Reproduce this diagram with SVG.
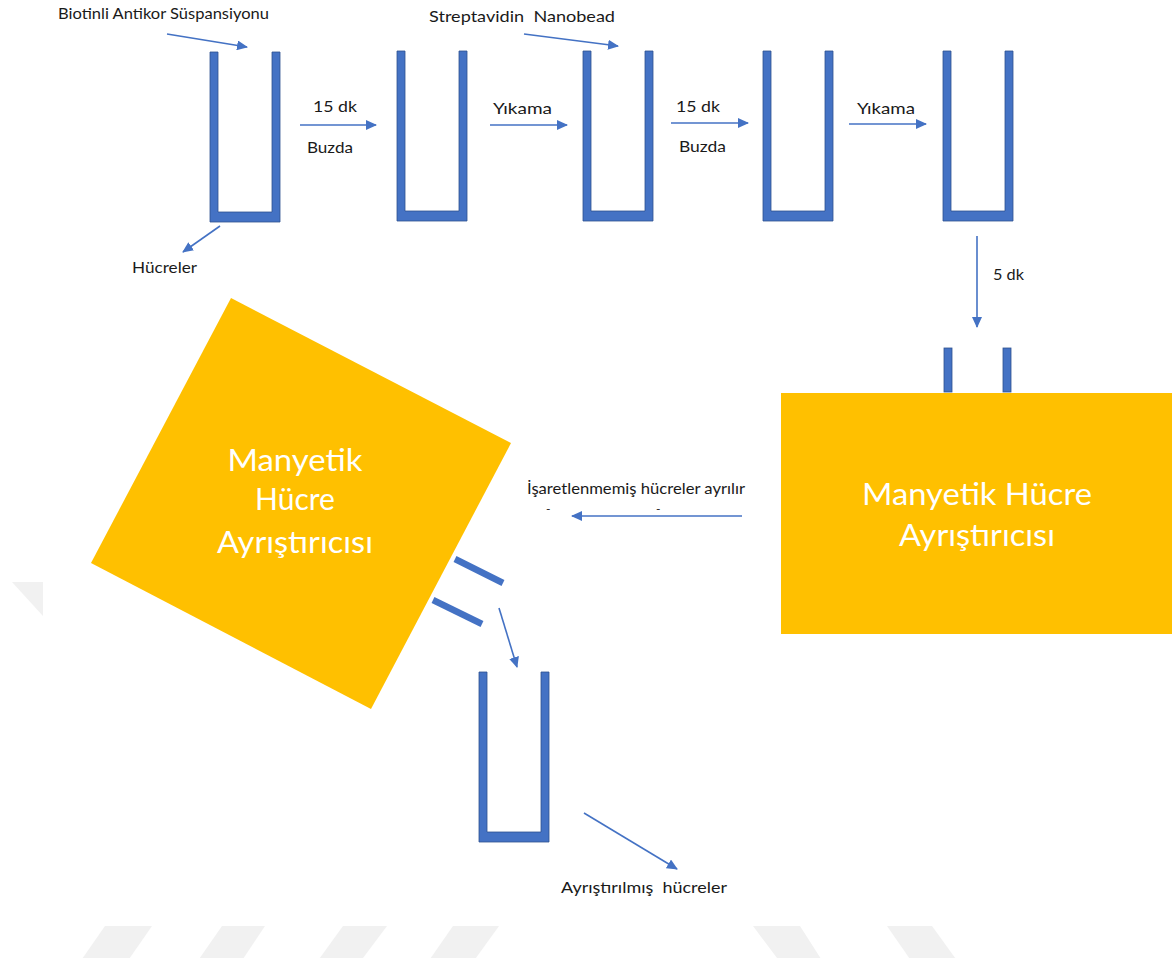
<svg xmlns="http://www.w3.org/2000/svg" width="1172" height="958" viewBox="0 0 1172 958">
  <style>
    .lbl { font-family: Lato, "Open Sans", "Liberation Sans", sans-serif; fill: #1a1a1a; }
    .big { font-family: Lato, "Open Sans", "Liberation Sans", sans-serif; fill: #ffffff; font-size: 30px; text-anchor: middle; }
    .tube { fill: #4472C4; stroke: #2F528F; stroke-width: 0.8; }
    .box { fill: #FFC000; }
    .wm { fill: #f1f1f1; }
    .con { stroke: #4472C4; stroke-width: 1.6; fill: none; marker-end: url(#ah); }
  </style>
  <defs>
    <marker id="ah" markerUnits="userSpaceOnUse" markerWidth="11" markerHeight="10" refX="10" refY="5" orient="auto">
      <path d="M0,0 L11,5 L0,10 z" fill="#4472C4"/>
    </marker>
    <path id="tubeShape" d="M0,0 H8 V160 H62 V0 H70 V170 H0 Z"/>
  </defs>
  <rect width="1172" height="958" fill="#ffffff"/>

  <g id="watermark">
    <polygon class="wm" points="12,582 43,582 43,616"/>
    <polygon class="wm" points="105,926 152,926 127,962 80,962"/>
    <polygon class="wm" points="222,926 265,926 241,962 197,962"/>
    <polygon class="wm" points="343,926 387,926 360,962 317,962"/>
    <polygon class="wm" points="453,926 499,926 473,962 428,962"/>
    <polygon class="wm" points="753,926 800,926 823,962 780,962"/>
    <polygon class="wm" points="887,926 932,926 958,962 912,962"/>
  </g>

  <g id="tube1"><use href="#tubeShape" class="tube" transform="translate(210,52)"/></g>
  <g id="tube2"><use href="#tubeShape" class="tube" transform="translate(397,51)"/></g>
  <g id="tube3"><use href="#tubeShape" class="tube" transform="translate(583,51)"/></g>
  <g id="tube4"><use href="#tubeShape" class="tube" transform="translate(763,51)"/></g>
  <g id="tube5"><use href="#tubeShape" class="tube" transform="translate(943,51)"/></g>
  <g id="tube6"><use href="#tubeShape" class="tube" transform="translate(479,672)"/></g>

  <g id="separator-right">
    <rect class="tube" x="944" y="348" width="8" height="44"/>
    <rect class="tube" x="1003" y="348" width="8" height="44"/>
    <rect class="box" x="781" y="393" width="391" height="241"/>
    <text class="big" x="977" y="505" textLength="230" lengthAdjust="spacingAndGlyphs">Manyetik Hücre</text>
    <text class="big" x="977" y="546" textLength="156" lengthAdjust="spacingAndGlyphs">Ayrıştırıcısı</text>
  </g>

  <g id="separator-left">
    <polygon class="box" points="231,298 511,443 371,709 91,563"/>
    <line x1="455" y1="559" x2="503" y2="583" stroke="#4472C4" stroke-width="6.5"/>
    <line x1="433" y1="600" x2="482" y2="624" stroke="#4472C4" stroke-width="6.5"/>
    <text class="big" x="295" y="471" textLength="135" lengthAdjust="spacingAndGlyphs">Manyetik</text>
    <text class="big" x="295" y="510" textLength="80" lengthAdjust="spacingAndGlyphs">Hücre</text>
    <text class="big" x="295" y="553" textLength="156" lengthAdjust="spacingAndGlyphs">Ayrıştırıcısı</text>
  </g>

  <g id="connectors">
    <line class="con" x1="167" y1="34" x2="247" y2="47"/>
    <line class="con" x1="220" y1="226" x2="183" y2="252"/>
    <line class="con" x1="300" y1="125" x2="376" y2="125"/>
    <line class="con" x1="490" y1="125" x2="567" y2="125"/>
    <line class="con" x1="524" y1="34" x2="618" y2="46"/>
    <line class="con" x1="671" y1="123" x2="748" y2="123"/>
    <line class="con" x1="849" y1="124" x2="926" y2="124"/>
    <line class="con" x1="977" y1="236" x2="977" y2="327"/>
    <line class="con" x1="742" y1="516" x2="572" y2="516"/>
    <line class="con" x1="499" y1="608" x2="517" y2="667"/>
    <line class="con" x1="584" y1="813" x2="677" y2="869"/>
  </g>

  <g id="labels">
    <text class="lbl" x="58" y="19" font-size="15" textLength="211" lengthAdjust="spacingAndGlyphs">Biotinli Antikor Süspansiyonu</text>
    <text class="lbl" x="429" y="22" font-size="16" textLength="186" lengthAdjust="spacingAndGlyphs" xml:space="preserve">Streptavidin  Nanobead</text>
    <text class="lbl" x="313" y="112" font-size="16" textLength="44" lengthAdjust="spacingAndGlyphs">15 dk</text>
    <text class="lbl" x="307" y="153" font-size="16" textLength="46" lengthAdjust="spacingAndGlyphs">Buzda</text>
    <text class="lbl" x="493" y="114" font-size="16" textLength="59" lengthAdjust="spacingAndGlyphs">Yıkama</text>
    <text class="lbl" x="676" y="112" font-size="16" textLength="44" lengthAdjust="spacingAndGlyphs">15 dk</text>
    <text class="lbl" x="679" y="152" font-size="16" textLength="47" lengthAdjust="spacingAndGlyphs">Buzda</text>
    <text class="lbl" x="857" y="114" font-size="16" textLength="58" lengthAdjust="spacingAndGlyphs">Yıkama</text>
    <text class="lbl" x="993" y="280" font-size="16" textLength="31" lengthAdjust="spacingAndGlyphs">5 dk</text>
    <text class="lbl" x="132" y="273" font-size="16" textLength="65" lengthAdjust="spacingAndGlyphs">Hücreler</text>
    <text class="lbl" x="527" y="494" font-size="15" textLength="218" lengthAdjust="spacingAndGlyphs">İşaretlenmemiş hücreler ayrılır</text>
    <text class="lbl" x="546" y="513" font-size="12" fill="#666666">-</text>
    <text class="lbl" x="656" y="513" font-size="12" fill="#666666">-</text>
    <text class="lbl" x="561" y="893" font-size="16" textLength="166" lengthAdjust="spacingAndGlyphs" xml:space="preserve">Ayrıştırılmış  hücreler</text>
  </g>
</svg>
